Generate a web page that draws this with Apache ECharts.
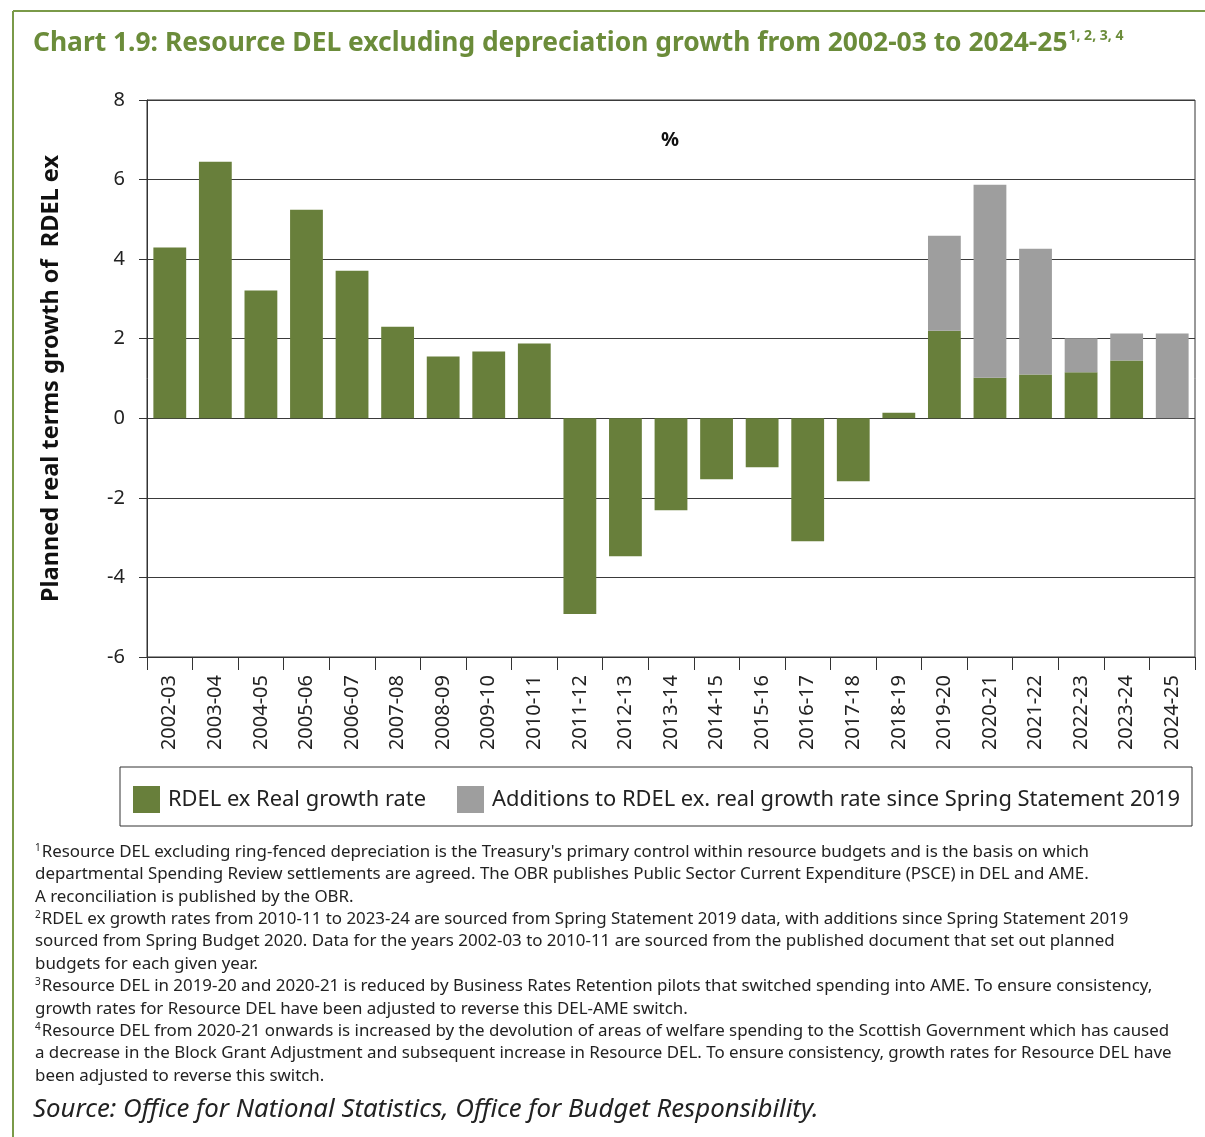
<!DOCTYPE html>
<html><head><meta charset="utf-8">
<script src="https://cdn.jsdelivr.net/npm/echarts@6/dist/echarts.min.js"></script>
<style>html,body{margin:0;padding:0;background:#fff}#c{width:1205px;height:1137px}</style>
</head><body><div id="c"></div>
<script>
const categories = ['2002-03','2003-04','2004-05','2005-06','2006-07','2007-08','2008-09','2009-10','2010-11','2011-12','2012-13','2013-14','2014-15','2015-16','2016-17','2017-18','2018-19','2019-20','2020-21','2021-22','2022-23','2023-24','2024-25'];
const rdelGrowth = [4.29,6.45,3.21,5.24,3.71,2.30,1.55,1.68,1.88,-4.92,-3.47,-2.31,-1.53,-1.23,-3.09,-1.58,0.14,2.20,1.02,1.10,1.16,1.45,0];
const additions = [null,null,null,null,null,null,null,null,null,null,null,null,null,null,null,null,null,2.39,4.85,3.16,0.85,0.68,2.13];
const yMin = -6, yMax = 8, yStep = 2;
const seriesNames = ['RDEL ex Real growth rate','Additions to RDEL ex. real growth rate since Spring Statement 2019'];
const titleText = 'Chart 1.9: Resource DEL excluding depreciation growth from 2002-03 to 2024-25';
const titleSup = '1, 2, 3, 4';
const yAxisName = 'Planned real terms growth of  RDEL ex';
const unitLabel = '%';
const footnotes = [
  ['1','Resource DEL excluding ring-fenced depreciation is the Treasury\'s primary control within resource budgets and is the basis on which'],
  ['','departmental Spending Review settlements are agreed. The OBR publishes Public Sector Current Expenditure (PSCE) in DEL and AME.'],
  ['','A reconciliation is published by the OBR.'],
  ['2','RDEL ex growth rates from 2010-11 to 2023-24 are sourced from Spring Statement 2019 data, with additions since Spring Statement 2019'],
  ['','sourced from Spring Budget 2020. Data for the years 2002-03 to 2010-11 are sourced from the published document that set out planned'],
  ['','budgets for each given year.'],
  ['3','Resource DEL in 2019-20 and 2020-21 is reduced by Business Rates Retention pilots that switched spending into AME. To ensure consistency,'],
  ['','growth rates for Resource DEL have been adjusted to reverse this DEL-AME switch.'],
  ['4','Resource DEL from 2020-21 onwards is increased by the devolution of areas of welfare spending to the Scottish Government which has caused'],
  ['','a decrease in the Block Grant Adjustment and subsequent increase in Resource DEL. To ensure consistency, growth rates for Resource DEL have'],
  ['','been adjusted to reverse this switch.']
];
const sourceText = 'Source: Office for National Statistics, Office for Budget Responsibility.';

const GREEN = '#687f3b', GRAY = '#9e9e9e', TITLE = '#6b8c3a', FRAME = '#7a9a48';
const FONT = '"Noto Sans", sans-serif';

const graphics = [
  {type:'line', shape:{x1:13,y1:11,x2:1205,y2:11}, style:{stroke:FRAME,lineWidth:2}},
  {type:'line', shape:{x1:13,y1:11,x2:13,y2:1137}, style:{stroke:FRAME,lineWidth:2}},
  {type:'text', x:33, y:43, style:{verticalAlign:'middle',rich:{t:{fontFamily:FONT,fontWeight:'bold',fontSize:26.4,fill:TITLE},s:{fontFamily:FONT,fontWeight:'bold',fontSize:14,fill:TITLE,verticalAlign:'top',padding:[0,0,14,1]}}, text:'{t|'+titleText+'}{s|'+titleSup+'}'}},
  {type:'text', x:670, y:140, style:{text:unitLabel, fontFamily:FONT, fontWeight:'bold', fontSize:20, fill:'#111', align:'center', verticalAlign:'middle'}},
  {type:'rect', shape:{x:120,y:767,width:1072,height:59}, style:{fill:'none',stroke:'#333',lineWidth:1}},
  {type:'text', x:33, y:1110, style:{text:sourceText, fontFamily:FONT, fontStyle:'italic', fontSize:25.8, fill:'#222', verticalAlign:'middle'}}
];
footnotes.forEach((f,i)=>{
  graphics.push({type:'text', x:35, y:852+i*22.4, style:{
    rich:{s:{fontFamily:FONT,fontSize:10,fill:'#222',verticalAlign:'top',padding:[0,1,8,0]},t:{fontFamily:FONT,fontSize:16.9,fill:'#222'}},
    text:(f[0]?'{s|'+f[0]+'}':'')+'{t|'+f[1]+'}', verticalAlign:'middle'}});
});

const chart = echarts.init(document.getElementById('c'));
chart.setOption({
  animation:false,
  backgroundColor:'#fff',
  grid:{left:147,right:10,top:100,bottom:480,show:true,borderColor:'#333',borderWidth:1,backgroundColor:'transparent'},
  legend:{left:128,top:781,itemWidth:27,itemHeight:27,itemGap:31,icon:'rect',
    textStyle:{fontFamily:FONT,fontSize:21.9,color:'#222',padding:[0,0,0,3]},data:seriesNames},
  xAxis:{type:'category',data:categories,position:'bottom',
    axisLine:{onZero:false,lineStyle:{color:'#333',width:1}},
    axisTick:{show:true,interval:0,length:13,lineStyle:{color:'#333'}},
    axisLabel:{interval:0,rotate:90,margin:18,fontFamily:FONT,fontSize:20,color:'#222'},
    splitLine:{show:false}},
  yAxis:{type:'value',min:yMin,max:yMax,interval:yStep,
    name:yAxisName,nameLocation:'middle',nameGap:84,nameRotate:90,
    nameTextStyle:{fontFamily:FONT,fontWeight:'bold',fontSize:23.5,color:'#111'},
    axisLine:{show:true,lineStyle:{color:'#333'}},
    axisTick:{show:true,length:8,lineStyle:{color:'#333'}},
    axisLabel:{margin:22,fontFamily:FONT,fontSize:20,color:'#222'},
    splitLine:{show:true,lineStyle:{color:'#3a3a3a',width:1}}},
  series:[
    {name:seriesNames[0],type:'bar',stack:'a',data:rdelGrowth,barWidth:'72%',itemStyle:{color:GREEN}},
    {name:seriesNames[1],type:'bar',stack:'a',data:additions,barWidth:'72%',itemStyle:{color:GRAY}}
  ],
  graphic:graphics
});
</script></body></html>
